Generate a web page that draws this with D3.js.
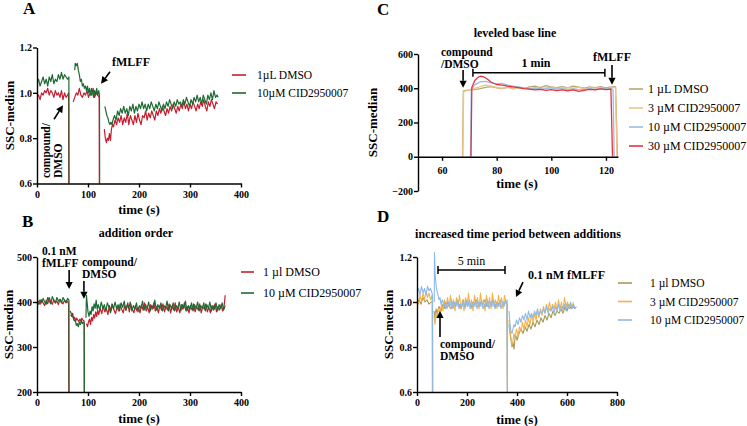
<!DOCTYPE html>
<html><head><meta charset="utf-8">
<script src="https://cdn.jsdelivr.net/npm/d3@7"></script>
<style>
html,body{margin:0;padding:0;background:#fff;}
</style></head><body>
<svg id="c" width="747" height="426"></svg>
<script>
const SERIF = '"Liberation Serif","Times New Roman",serif';

// ---------- Panel A data (time s, SSC-median normalised); null = gap ----------
const aXTicks = [0, 100, 200, 300, 400];
const aYTicks = [0.6, 0.8, 1.0, 1.2];
const aDmso = [[0,0.98],[3,0.99],[6,0.97],[9,1.00],[12,0.99],[15,1.01],[18,1.00],[21,1.02],[24,0.99],[27,1.01],[30,1.00],[33,0.98],[36,1.01],[39,0.99],[42,1.00],[45,0.98],[48,1.01],[51,0.97],[54,1.00],[57,0.98],[60,0.99],[62,1.00],[62.6,0],[63,null],
 [71,0.96],[74,0.98],[77,1.00],[80,0.99],[83,1.02],[86,0.99],[89,0.98],[92,1.00],[95,0.99],[98,1.01],[101,0.98],[104,1.00],[107,0.99],[110,1.02],[113,0.98],[116,1.00],[119,0.99],[122,0.98],[122.6,0],[123,null],
 [132,0.84],[134,0.80],[136,0.78],[138,0.80],[140,0.79],[142,0.82],[144,0.79],[146,0.84],[148,0.86],[150,0.85],[153,0.88],[156,0.86],[159,0.89],[162,0.87],[165,0.90],[168,0.86],[171,0.89],[174,0.87],[177,0.91],[180,0.86],[183,0.90],[186,0.88],[189,0.86],[192,0.90],[195,0.87],[198,0.91],[201,0.88],[204,0.86],[207,0.90],[210,0.89],[213,0.92],[216,0.88],[219,0.91],[222,0.89],[225,0.92],[228,0.90],[231,0.88],[234,0.92],[237,0.90],[240,0.93],[243,0.91],[246,0.94],[249,0.92],[252,0.90],[255,0.93],[258,0.91],[261,0.94],[264,0.92],[267,0.95],[270,0.93],[273,0.91],[276,0.94],[279,0.92],[282,0.95],[285,0.93],[288,0.96],[291,0.93],[294,0.95],[297,0.92],[300,0.95],[303,0.93],[306,0.96],[309,0.94],[312,0.92],[315,0.95],[318,0.93],[321,0.96],[324,0.94],[327,0.97],[330,0.94],[333,0.92],[336,0.96],[339,0.94],[342,0.97],[345,0.95],[348,0.93],[351,0.96],[354,0.95]];
const aCid = [[0,1.04],[3,1.06],[6,1.03],[9,1.05],[12,1.07],[15,1.04],[18,1.06],[21,1.03],[24,1.07],[27,1.05],[30,1.08],[33,1.04],[36,1.06],[39,1.05],[42,1.08],[45,1.06],[48,1.09],[51,1.06],[54,1.08],[57,1.07],[60,1.06],[62.5,1.07],[63.4,0],[64,null],
 [74,1.10],[75,1.13],[77,1.12],[79,1.13],[81,1.10],[83,1.08],[85,1.05],[87,1.06],[89,1.03],[91,1.04],[93,1.02],[95,1.03],[97,1.01],[99,1.03],[101,1.00],[103,1.02],[105,0.99],[107,1.02],[109,1.00],[111,0.98],[113,1.01],[115,0.99],[117,1.02],[119,0.99],[121,1.01],[122.5,0.99],[123.4,0],[124,null],
 [133,0.94],[135,0.92],[137,0.90],[139,0.89],[141,0.87],[143,0.86],[145,0.87],[147,0.86],[149,0.88],[152,0.90],[155,0.88],[158,0.92],[161,0.90],[164,0.93],[167,0.91],[170,0.94],[173,0.91],[176,0.93],[179,0.90],[182,0.94],[185,0.92],[188,0.95],[191,0.91],[194,0.94],[197,0.92],[200,0.95],[203,0.93],[206,0.96],[209,0.93],[212,0.95],[215,0.92],[218,0.95],[221,0.93],[224,0.96],[227,0.94],[230,0.92],[233,0.95],[236,0.93],[239,0.96],[242,0.94],[245,0.92],[248,0.95],[251,0.93],[254,0.96],[257,0.94],[260,0.97],[263,0.95],[266,0.93],[269,0.96],[272,0.94],[275,0.97],[278,0.95],[281,0.96],[284,0.94],[287,0.97],[290,0.95],[293,0.98],[296,0.96],[299,0.94],[302,0.97],[305,0.95],[308,0.98],[311,0.96],[314,0.99],[317,0.96],[320,0.98],[323,0.95],[326,0.99],[329,0.97],[332,0.95],[335,0.99],[338,0.97],[341,1.00],[344,0.97],[347,1.01],[350,0.98],[353,0.99],[355,0.98]];
const aLabels = ["1µL DMSO", "10µM CID2950007"];

// ---------- Panel B data ----------
const bXTicks = [0, 100, 200, 300, 400];
const bYTicks = [200, 300, 400, 500];
const bDmso = [[0,398],[3,402],[6,395],[9,405],[12,398],[15,392],[18,404],[21,396],[24,410],[27,400],[30,395],[33,405],[36,398],[39,402],[42,394],[45,406],[48,400],[51,396],[54,404],[57,398],[60,402],[62,396],[62.6,0],[63,null],
 [66,372],[68,368],[70,375],[72,362],[74,366],[76,358],[78,364],[80,360],[82,356],[84,362],[86,358],[88,364],[90,360],[92.4,358],[93,0],[93.5,null],
 [97,352],[99,345],[101,356],[103,362],[105,350],[107,366],[109,358],[111,372],[113,364],[115,378],[117,368],[119,382],[121,372],[124,386],[127,374],[130,390],[133,378],[136,386],[139,372],[142,392],[145,380],[148,394],[151,382],[154,374],[157,390],[160,380],[163,396],[166,384],[169,376],[172,392],[175,382],[178,398],[181,378],[184,394],[187,384],[190,376],[193,392],[196,380],[199,388],[202,376],[205,394],[208,382],[211,398],[214,380],[217,388],[220,376],[223,394],[226,384],[229,398],[232,380],[235,390],[238,376],[241,392],[244,382],[247,396],[250,378],[253,390],[256,382],[259,396],[262,376],[265,390],[268,382],[271,398],[274,378],[277,388],[280,376],[283,394],[286,384],[289,398],[292,380],[295,390],[298,376],[301,392],[304,382],[307,396],[310,378],[313,390],[316,382],[319,396],[322,376],[325,390],[328,384],[331,396],[334,378],[337,388],[340,376],[343,392],[346,382],[349,396],[352,378],[355,390],[358,382],[361,394],[364,380],[367,392],[369,415]];
const bCid = [[0,400],[3,395],[6,405],[9,398],[12,408],[15,400],[18,395],[21,410],[24,402],[27,396],[30,412],[33,404],[36,398],[39,410],[42,402],[45,406],[48,398],[51,410],[54,404],[57,400],[60,408],[62.6,404],[63.3,0],[63.8,null],
 [65,380],[67,375],[69,370],[71,365],[73,358],[75,360],[77,348],[79,352],[81,345],[83,355],[85,350],[87,360],[89,352],[91,355],[92.6,354],[93.2,0],[93.6,null],
 [96,365],[97,415],[98,402],[100,378],[102,368],[104,380],[106,372],[108,390],[110,380],[112,396],[114,386],[116,404],[118,384],[120,394],[123,382],[126,400],[129,386],[132,394],[135,380],[138,398],[141,388],[144,376],[147,396],[150,384],[153,400],[156,386],[159,394],[162,380],[165,398],[168,388],[171,402],[174,382],[177,394],[180,386],[183,400],[186,380],[189,392],[192,384],[195,398],[198,378],[201,392],[204,386],[207,402],[210,382],[213,394],[216,386],[219,400],[222,380],[225,392],[228,386],[231,404],[234,382],[237,394],[240,386],[243,398],[246,380],[249,392],[252,386],[255,402],[258,380],[261,394],[264,386],[267,398],[270,380],[273,392],[276,386],[279,400],[282,380],[285,394],[288,386],[291,402],[294,380],[297,392],[300,384],[303,398],[306,380],[309,394],[312,386],[315,400],[318,380],[321,392],[324,386],[327,398],[330,380],[333,394],[336,386],[339,400],[342,380],[345,392],[348,384],[351,398],[354,380],[357,394],[360,386],[363,398],[366,382],[369,392]];
const bLabels = ["1 µl DMSO", "10 µM CID2950007"];

// ---------- Panel C data ----------
const cXTicks = [60, 80, 100, 120];
const cYTicks = [-200, 0, 200, 400, 600];
const cDmso1 = [[67.5,0],[67.8,385],[69,388],[70,390],[72,392],[74,398],[76,405],[78,410],[80,402],[82,398],[84,405],[86,400],[88,404],[90,398],[92,408],[94,412],[96,404],[98,415],[100,408],[102,404],[104,410],[106,402],[108,412],[110,406],[112,400],[114,408],[116,404],[118,410],[120,402],[122,408],[123.5,410],[124.2,0]];
const cCid3 = [[67.6,0],[67.9,380],[70,392],[72,400],[74,410],[76,418],[78,412],[80,405],[82,400],[84,408],[86,395],[88,402],[90,400],[92,396],[94,404],[96,398],[98,402],[100,406],[102,400],[104,398],[106,404],[108,400],[110,405],[112,398],[114,402],[116,400],[118,404],[120,398],[122,402],[123.5,405],[124,0]];
const cCid10 = [[70.4,0],[70.7,395],[72,420],[74,438],[76,440],[78,432],[80,425],[82,428],[84,418],[86,412],[88,408],[90,402],[92,398],[94,400],[96,395],[98,398],[100,402],[102,395],[104,398],[106,392],[108,396],[110,390],[112,394],[114,398],[116,392],[118,400],[120,396],[122,398],[122.6,390],[123,0]];
const cCid30 = [[70.6,0],[70.9,405],[72,445],[73,462],[74,470],[75,468],[76,460],[77,448],[78,435],[80,422],[82,418],[84,412],[86,408],[88,404],[90,398],[92,395],[94,390],[96,394],[98,388],[100,392],[102,386],[104,390],[106,385],[108,390],[110,382],[112,388],[114,394],[116,390],[118,396],[120,392],[121.8,395],[122.4,0]];
const cLabels = ["1 µL DMSO", "3 µM CID2950007", "10 µM CID2950007", "30 µM CID2950007"];

// ---------- Panel D data ----------
const dXTicks = [0, 200, 400, 600, 800];
const dYTicks = [0.6, 0.8, 1.0, 1.2];
const dDmso = [[0,1.00],[8,1.01],[16,0.99],[24,1.02],[32,1.00],[40,1.01],[48,0.99],[56,1.00],[62,1.00],[63.5,0],[64,null],
 [68,0.96],[72,0.93],[76,0.97],[80,0.95],[88,0.98],[96,0.96],[104,0.99],[112,0.97],[120,1.00],[128,0.98],[136,0.97],[144,1.00],[152,0.98],[160,1.01],[168,0.99],[176,0.97],[184,1.00],[192,0.98],[200,1.01],[208,0.99],[216,0.98],[224,1.00],[232,0.99],[240,1.01],[248,0.98],[256,1.00],[264,0.99],[272,1.01],[280,0.98],[288,1.00],[296,0.99],[304,1.01],[312,0.98],[320,1.00],[328,0.99],[336,1.01],[344,0.99],[352,1.00],[360,0.99],[363.5,0],[364,null],
 [368,0.90],[372,0.86],[376,0.83],[380,0.80],[384,0.82],[388,0.79],[392,0.84],[396,0.85],[400,0.83],[408,0.86],[416,0.88],[424,0.86],[432,0.89],[440,0.87],[448,0.90],[456,0.88],[464,0.91],[472,0.89],[480,0.92],[488,0.90],[496,0.93],[504,0.91],[512,0.94],[520,0.92],[528,0.95],[536,0.93],[544,0.96],[552,0.94],[560,0.96],[568,0.95],[576,0.97],[584,0.95],[592,0.98],[600,0.96],[608,0.99],[616,0.97],[624,0.98],[632,0.97]];
const dCid3 = [[0,1.02],[6,0.99],[12,1.03],[18,1.00],[24,1.04],[30,1.01],[36,1.05],[42,1.02],[48,1.04],[54,1.01],[60,1.03],[63,0],[63.5,null],
 [68,0.94],[72,0.90],[76,0.95],[80,0.93],[86,0.97],[92,0.95],[98,0.99],[104,0.96],[110,1.01],[116,0.97],[122,1.02],[128,0.98],[134,1.03],[140,0.97],[146,1.01],[152,0.96],[158,1.02],[164,0.98],[170,1.03],[176,0.97],[182,1.01],[188,0.96],[194,1.02],[200,0.98],[206,1.04],[212,0.97],[218,1.01],[224,0.96],[230,1.03],[236,0.98],[242,1.02],[248,0.97],[254,1.04],[260,0.98],[266,1.01],[272,0.96],[278,1.03],[284,0.98],[290,1.02],[296,0.97],[302,1.04],[308,0.98],[314,1.01],[320,0.97],[326,1.03],[332,0.98],[338,1.02],[344,0.97],[350,1.03],[356,0.99],[361,1.01],[363,0],[363.5,null],
 [368,0.92],[372,0.87],[376,0.84],[380,0.81],[384,0.83],[388,0.86],[392,0.84],[398,0.88],[404,0.85],[410,0.89],[416,0.87],[422,0.91],[428,0.88],[434,0.92],[440,0.89],[446,0.93],[452,0.90],[458,0.94],[464,0.91],[470,0.95],[476,0.92],[482,0.96],[488,0.93],[494,0.97],[500,0.94],[506,0.98],[512,0.95],[518,0.99],[524,0.96],[530,1.00],[536,0.96],[542,0.99],[548,0.97],[554,1.00],[560,0.96],[566,1.01],[572,0.97],[578,1.00],[584,0.96],[590,1.02],[596,0.98],[602,1.00],[608,0.97],[614,0.99],[620,0.98],[626,1.00]];
const dCid10 = [[0,1.04],[6,1.06],[12,1.03],[18,1.07],[24,1.04],[30,1.06],[36,1.03],[42,1.07],[48,1.05],[54,1.06],[60,1.04],[62,1.03],[64,0],[64.5,null],
 [69,1.00],[70,1.22],[72,1.14],[74,1.10],[76,1.08],[78,1.06],[80,1.05],[84,1.03],[88,1.01],[92,1.02],[96,0.99],[102,1.01],[108,0.98],[114,1.00],[120,0.97],[126,1.00],[132,0.98],[138,1.01],[144,0.97],[150,1.00],[156,0.98],[162,1.01],[168,0.97],[174,0.99],[180,0.98],[186,1.01],[192,0.97],[198,1.00],[204,0.98],[210,1.01],[216,0.97],[222,0.99],[228,0.98],[234,1.01],[240,0.97],[246,1.00],[252,0.98],[258,1.01],[264,0.97],[270,0.99],[276,0.98],[282,1.01],[288,0.97],[294,1.00],[300,0.98],[306,1.01],[312,0.97],[318,0.99],[324,0.98],[330,1.00],[336,0.97],[342,1.00],[348,0.98],[354,1.01],[360,0.99],[364,0],[364.5,null],
 [368,0.96],[372,0.90],[376,0.87],[380,0.86],[384,0.88],[388,0.90],[392,0.89],[398,0.92],[404,0.90],[410,0.93],[416,0.91],[422,0.94],[428,0.92],[434,0.95],[440,0.92],[446,0.96],[452,0.93],[458,0.95],[464,0.93],[470,0.96],[476,0.94],[482,0.97],[488,0.94],[494,0.96],[500,0.95],[506,0.97],[512,0.95],[518,0.98],[524,0.95],[530,0.97],[536,0.96],[542,0.98],[548,0.95],[554,0.98],[560,0.96],[566,0.99],[572,0.96],[578,0.98],[584,0.97],[590,0.99],[596,0.96],[602,0.99],[608,0.97],[614,1.00],[620,0.97],[626,0.99],[632,0.97],[638,0.98]];
const dLabels = ["1 µl DMSO", "3 µM CID2950007", "10 µM CID2950007"];

// ---------- colours ----------
const RED = "#c41e2e", GREEN = "#1e6a34";
const C_OLIVE = "#b6a86e", C_ORANGE = "#f4c383", C_BLUE = "#9bbce6", C_RED = "#e5333f";
const D_OLIVE = "#a8985a", D_ORANGE = "#f3b349", D_BLUE = "#8db8ea";

const svg = d3.select("#c");
let clipN = 0;

function txt(g, x, y, s, o = {}) {
  return g.append("text").attr("x", x).attr("y", y).text(s)
    .attr("font-family", SERIF).attr("font-size", o.size || 12)
    .attr("font-weight", o.bold === false ? "normal" : "bold")
    .attr("text-anchor", o.anchor || "start").attr("fill", "#000");
}
function arrow(g, x1, y1, x2, y2) {
  const a = Math.atan2(y2 - y1, x2 - x1), L = 7, W = 3.6;
  const bx = x2 - L * Math.cos(a), by = y2 - L * Math.sin(a);
  g.append("line").attr("x1", x1).attr("y1", y1).attr("x2", bx).attr("y2", by)
    .attr("stroke", "#000").attr("stroke-width", 1.6);
  g.append("path").attr("d", `M${x2},${y2}L${bx + W * Math.sin(a)},${by - W * Math.cos(a)}L${bx - W * Math.sin(a)},${by + W * Math.cos(a)}Z`).attr("fill", "#000");
}
function bracket(g, x1, x2, y) {
  g.append("path").attr("d", `M${x1},${y - 4}V${y + 4}M${x1},${y}H${x2}M${x2},${y - 4}V${y + 4}`)
    .attr("stroke", "#000").attr("stroke-width", 1.5).attr("fill", "none");
}

function panel(o) {
  const g = svg.append("g");
  const x = d3.scaleLinear().domain(o.xd).range(o.xr);
  const y = d3.scaleLinear().domain(o.yd).range(o.yr);
  const id = "clip" + (clipN++);
  const axY = y(o.xAxisAt);
  svg.append("clipPath").attr("id", id).append("rect")
    .attr("x", o.xr[0]).attr("y", o.yr[1] - 12).attr("width", o.xr[1] - o.xr[0] + 10)
    .attr("height", axY - o.yr[1] + 12);
  const line = d3.line().defined(d => d[1] !== null).x(d => x(d[0])).y(d => y(d[1]));
  const lg = g.append("g").attr("clip-path", `url(#${id})`);
  o.series.forEach(s => lg.append("path").attr("d", line(s.data)).attr("fill", "none")
    .attr("stroke", s.color).attr("stroke-width", o.lw || 1.2).attr("stroke-linejoin", "round"));

  const xa = d3.axisBottom(x).tickValues(o.xt).tickSize(4).tickPadding(o.xpad).tickSizeOuter(0);
  const ya = d3.axisLeft(y).tickValues(o.yt).tickSize(4).tickPadding(1).tickSizeOuter(0);
  if (o.yf) ya.tickFormat(o.yf);
  const gx = g.append("g").attr("transform", `translate(0,${axY})`).call(xa);
  const gy = g.append("g").attr("transform", `translate(${o.xr[0]},0)`).call(ya);
  [gx, gy].forEach(a => {
    a.attr("font-family", SERIF).attr("font-size", 10).attr("font-weight", "bold");
    a.selectAll("path,line").attr("stroke", "#000").attr("stroke-width", 1.4);
    a.selectAll("text").attr("fill", "#000");
  });

  txt(g, o.letter[1], o.letter[2], o.letter[0], { size: 17 });
  if (o.title) txt(g, o.title[1], o.title[2], o.title[0], { anchor: "middle" });
  txt(g, 0, 0, "SSC-median", { size: 13, anchor: "middle" })
    .attr("transform", `translate(${o.ylx},${(o.yr[0] + o.yr[1]) / 2}) rotate(-90)`);
  txt(g, o.xlab[0], o.xlab[1], "time (s)", { size: 13, anchor: "middle" });

  const L = o.legend;
  o.series.forEach((s, i) => {
    const yy = L.y + i * L.dy;
    g.append("line").attr("x1", L.lx[0]).attr("x2", L.lx[1]).attr("y1", yy).attr("y2", yy)
      .attr("stroke", s.color).attr("stroke-width", 1.6);
    txt(g, L.tx, yy + 4, o.labels[i], { bold: false, size: L.size || 12 });
  });
  if (o.ann) o.ann(g, x, y);
}

// Panel A
panel({
  xd: [0, 400], xr: [37, 241], yd: [0.6, 1.2], yr: [183.5, 47.5], xAxisAt: 0.6,
  xt: aXTicks, yt: aYTicks, yf: d3.format(".1f"), xpad: 3,
  series: [{ data: aDmso, color: RED }, { data: aCid, color: GREEN }], labels: aLabels,
  letter: ["A", 23, 14], ylx: 14, xlab: [139, 214],
  legend: { lx: [232, 246], tx: 257, y: 75, dy: 18, size: 11.5 },
  ann: (g, x, y) => {
    const tx = x(125.5), ty = y(1.04);
    arrow(g, tx + 9, ty - 12, tx, ty);
    txt(g, tx + 11, ty - 18, "fMLFF");
    const cx = x(51), cy = y(0.945);
    arrow(g, cx - 9, cy + 14, cx, cy);
    txt(g, 0, 0, "compound/", { size: 11.5 }).attr("transform", `translate(50,178) rotate(-90)`);
    txt(g, 0, 0, "DMSO", { size: 11.5 }).attr("transform", `translate(62,178) rotate(-90)`);
  }
});

// Panel B
panel({
  xd: [0, 400], xr: [37, 241], yd: [200, 500], yr: [392, 257], xAxisAt: 200,
  xt: bXTicks, yt: bYTicks, xpad: 3,
  series: [{ data: bDmso, color: RED }, { data: bCid, color: GREEN }], labels: bLabels,
  letter: ["B", 22, 227], title: ["addition order", 136, 237], ylx: 13, xlab: [139, 423],
  legend: { lx: [241, 254], tx: 263, y: 272, dy: 21 },
  ann: (g, x, y) => {
    txt(g, 42, 255, "0.1 nM", { size: 11.5 }); txt(g, 42, 267, "fMLFF", { size: 11.5 });
    arrow(g, x(63), 270, x(63), y(429));
    txt(g, 82, 266, "compound/", { size: 11.5 }); txt(g, 82, 278, "DMSO", { size: 11.5 });
    arrow(g, x(92), 281, x(92), y(407));
  }
});

// Panel C
panel({
  xd: [51.2, 124.4], xr: [418, 618], yd: [-200, 600], yr: [191, 54], xAxisAt: 0,
  xt: cXTicks, yt: cYTicks, xpad: 6, lw: 1.3,
  series: [{ data: cDmso1, color: C_OLIVE }, { data: cCid3, color: C_ORANGE }, { data: cCid10, color: C_BLUE }, { data: cCid30, color: C_RED }],
  labels: cLabels,
  letter: ["C", 377, 15], title: ["leveled base line", 515, 37], ylx: 377, xlab: [517, 188],
  legend: { lx: [629, 643], tx: 648, y: 89, dy: 19 },
  ann: (g, x, y) => {
    txt(g, 441, 56, "compound", { size: 11.5 }); txt(g, 441, 68, "/DMSO", { size: 11.5 });
    arrow(g, x(67.7), 70, x(67.7), y(403));
    bracket(g, x(71.3), x(119.6), y(490));
    txt(g, 536, 67, "1 min", { anchor: "middle" });
    txt(g, 593, 61, "fMLFF");
    arrow(g, x(122.2), 65, x(122.2), y(420));
  }
});

// Panel D
panel({
  xd: [0, 800], xr: [417, 617], yd: [0.6, 1.2], yr: [392, 257], xAxisAt: 0.6,
  xt: dXTicks, yt: dYTicks, yf: d3.format(".1f"), xpad: 3, lw: 1.1,
  series: [{ data: dDmso, color: D_OLIVE }, { data: dCid3, color: D_ORANGE }, { data: dCid10, color: D_BLUE }],
  labels: dLabels,
  letter: ["D", 377, 222], title: ["increased time period between additions", 518, 238], ylx: 393, xlab: [517, 424],
  legend: { lx: [618, 632], tx: 650, y: 283, dy: 18.5, size: 11.5 },
  ann: (g, x, y) => {
    bracket(g, x(84), x(352), y(1.142));
    txt(g, (x(84) + x(352)) / 2, 265, "5 min", { anchor: "middle", bold: false });
    txt(g, 528, 279, "0.1 nM fMLFF");
    arrow(g, x(396) + 7, y(1.022) - 15, x(396), y(1.022));
    txt(g, 440, 348, "compound/", { size: 11.5 }); txt(g, 440, 360, "DMSO", { size: 11.5 });
    arrow(g, x(92), 337, x(92), y(0.96));
  }
});
</script>
</body></html>
